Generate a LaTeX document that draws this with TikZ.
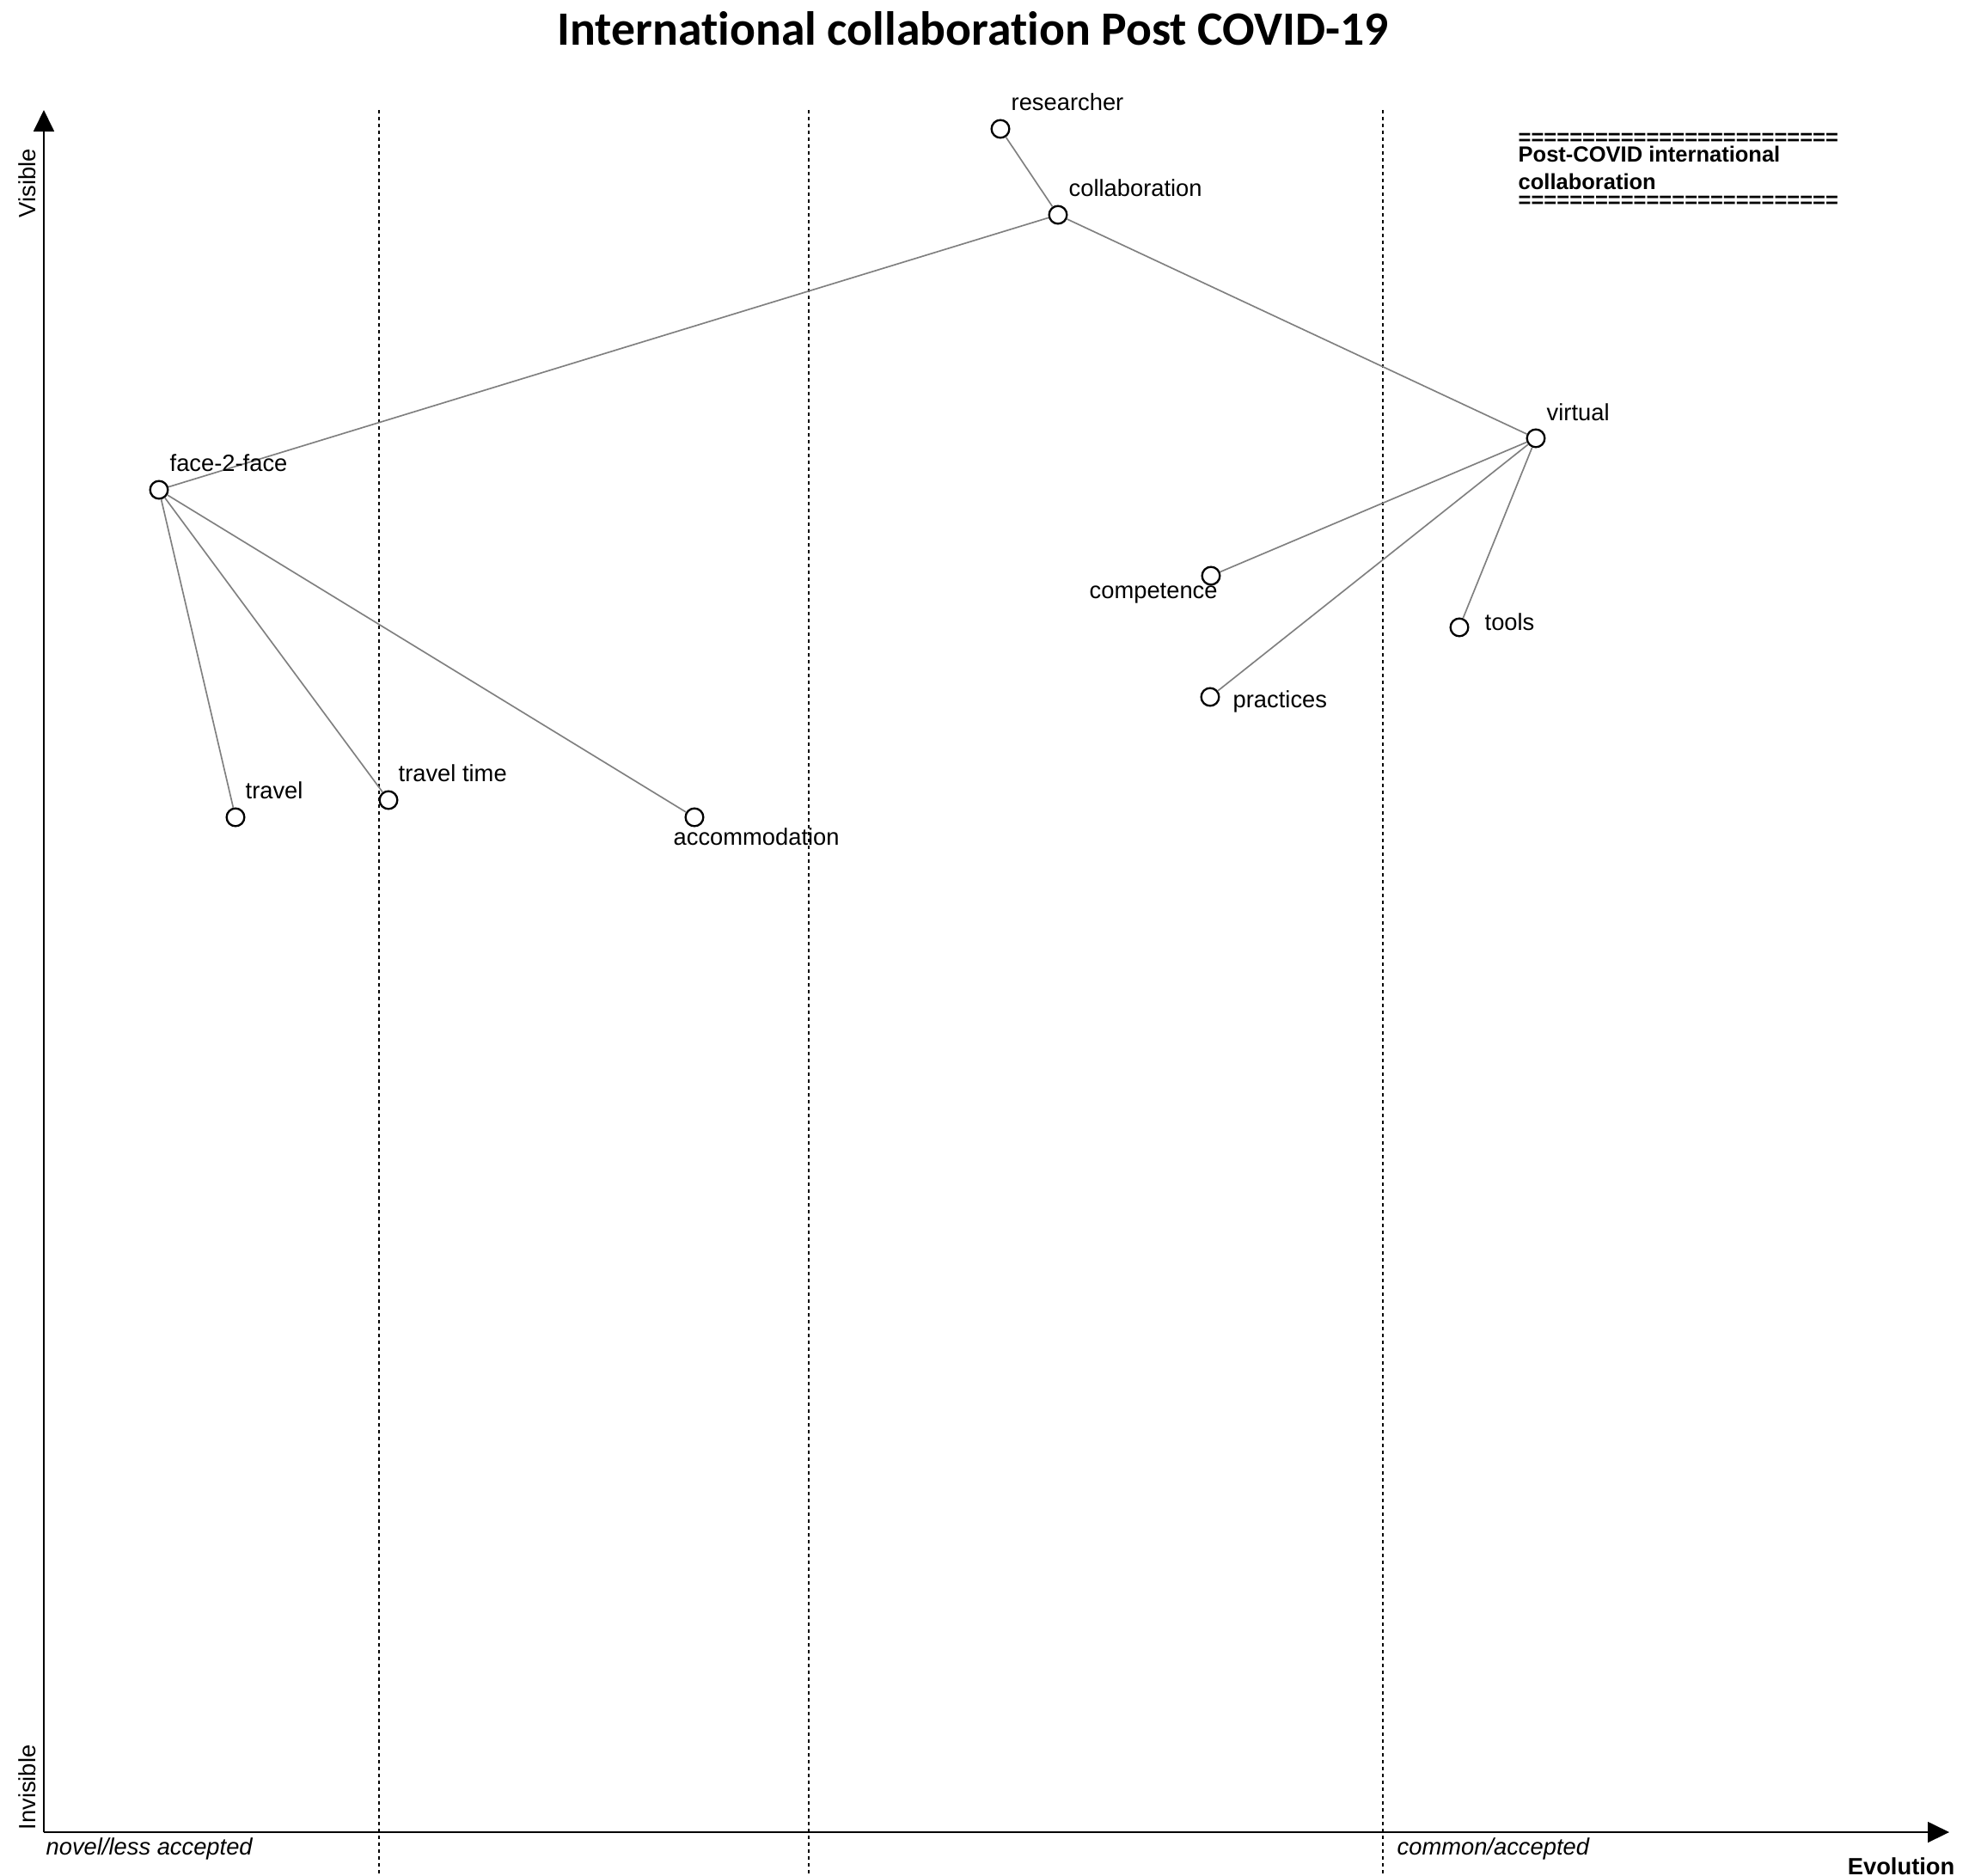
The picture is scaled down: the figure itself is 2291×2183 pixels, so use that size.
\documentclass[tikz,border=0pt]{standalone}
\usepackage{fontspec}
\setmainfont{Liberation Sans}
\newfontfamily\titlefont[Ligatures={NoCommon}]{Carlito}
\usetikzlibrary{arrows.meta}

\tikzset{
	comp/.style={circle,draw=black,fill=white,line width=0.7pt,minimum size=6.2pt,inner sep=0pt},
	link/.style={draw=gray,line width=0.5pt},
	lbl/.style={anchor=base west,inner sep=0pt,font=\fontsize{8.2}{9.8}\selectfont},
	legendtxt/.style={anchor=base west,inner sep=0pt,font=\bfseries\fontsize{7.65}{9}\selectfont},
	stage/.style={line width=0.45pt,dash pattern={on 1.2pt off 1.2pt}},
	axis/.style={line width=0.55pt,-{Triangle[length=7.5pt,width=7.2pt]}},
}

\begin{document}
\begin{tikzpicture}[x=0.3pt,y=0.3pt,yscale=-1,xscale=1]
	\useasboundingbox (0,0) rectangle (2291,2183);
	
	% Title
	\node [anchor=base,inner sep=0pt,font=\titlefont\bfseries\fontsize{16.7}{20}\selectfont] (title) at (1132,52) {International collaboration Post COVID-19};
	
	%Shape: Axis 2D
	\coordinate (origin) at (51,2132);
	\coordinate (ytop) at (51,128);
	\coordinate (xend) at (2268,2132);
	\draw [axis] (origin) -- (ytop);
	\draw [axis] (origin) -- (xend);
	
	%Straight Lines: evolution stages
	\foreach \sx in {441,941,1609} {
		\draw [stage] (\sx,128) -- (\sx,2180);
	}
	
	% Axis labels
	\node [lbl,rotate=90] (visible) at (42,254) {Visible};
	\node [lbl,rotate=90] (invisible) at (42,2130) {Invisible};
	\node [lbl,font=\itshape\fontsize{8.2}{9.8}\selectfont] (novel) at (53,2158) {novel/less accepted};
	\node [lbl,font=\itshape\fontsize{8.2}{9.8}\selectfont] (common) at (1625,2158) {common/accepted};
	\node [lbl,anchor=base east,font=\bfseries\fontsize{8.2}{9.8}\selectfont] (evolution) at (2275,2181) {Evolution};
	
	% Legend
	\node [legendtxt] (rulea) at (1766,168) {=========================};
	\node [legendtxt] (legenda) at (1766,188) {Post-COVID international};
	\node [legendtxt] (legendb) at (1766,220) {collaboration};
	\node [legendtxt] (ruleb) at (1766,241) {=========================};
	
	% Components
	\node [comp] (researcher) at (1164,150) {};
	\node [comp] (collab) at (1231,250) {};
	\node [comp] (virtual) at (1787,510) {};
	\node [comp] (face) at (185,570) {};
	\node [comp] (competence) at (1409,670) {};
	\node [comp] (tools) at (1698,730) {};
	\node [comp] (practices) at (1408,811) {};
	\node [comp] (travel) at (274,951) {};
	\node [comp] (traveltime) at (452,931) {};
	\node [comp] (accom) at (808,951) {};
	
	% Links
	\draw [link] (researcher) -- (collab);
	\draw [link] (collab) -- (face);
	\draw [link] (collab) -- (virtual);
	\draw [link] (face) -- (travel);
	\draw [link] (face) -- (traveltime);
	\draw [link] (face) -- (accom);
	\draw [link] (virtual) -- (competence);
	\draw [link] (virtual) -- (practices);
	\draw [link] (virtual) -- (tools);
	
	% Text Node
	\node [lbl] (researcher-t) at (1176,128) {researcher};
	\node [lbl] (collab-t) at (1243,228) {collaboration};
	\node [lbl] (virtual-t) at (1799,489) {virtual};
	\node [lbl] (face-t) at (197,548) {face-2-face};
	\node [lbl] (competence-t) at (1267,696) {competence};
	\node [lbl] (tools-t) at (1727,733) {tools};
	\node [lbl] (practices-t) at (1434,823) {practices};
	\node [lbl] (travel-t) at (285,929) {travel};
	\node [lbl] (traveltime-t) at (463,909) {travel time};
	\node [lbl] (accom-t) at (783,983) {accommodation};
	
\end{tikzpicture}
\end{document}
